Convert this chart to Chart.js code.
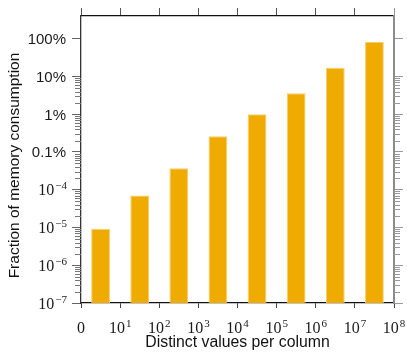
<!DOCTYPE html>
<html>
<head>
<meta charset="utf-8">
<script src="https://cdn.jsdelivr.net/npm/chart.js@4"></script>
<style>
  html, body { margin: 0; padding: 0; background: #fff; }
  #wrap { width: 407px; height: 352px; }
</style>
</head>
<body>
<div id="wrap"><canvas id="memChart" width="407" height="352"></canvas></div>
<script>
// bucket boundaries on the x axis: 0, 10^1 ... 10^8 distinct values
const xTickPos = [0, 1, 2, 3, 4, 5, 6, 7, 8];
const xTickLabels = ['0', '10^1', '10^2', '10^3', '10^4', '10^5', '10^6', '10^7', '10^8'];
// share of total memory per bucket (one bar between each pair of boundaries)
const memShare = [9.2e-6, 7.0e-5, 3.7e-4, 2.6e-3, 1.0e-2, 3.6e-2, 0.17, 0.82];

const yTickValues = [1e-7, 1e-6, 1e-5, 1e-4, 1e-3, 1e-2, 1e-1, 1];
const yTickLabels = ['10^-7', '10^-6', '10^-5', '10^-4', '0.1%', '1%', '10%', '100%'];
const yMin = 1e-7;
const yMax = 4;

const yTitle = 'Fraction of memory consumption';
const xTitle = 'Distinct values per column';

const SERIF = '"Liberation Serif", "DejaVu Serif", serif';
const SANS = '"Liberation Sans", Arial, sans-serif';
const BAR_COLOR = '#f0ab00';

// decade ticks plus 2..9 minors (the top decade has none)
function buildLogTicks(scale) {
  const ticks = [];
  for (let e = -7; e <= 0; e++) {
    for (let k = 1; k <= 9; k++) {
      if (k > 1 && e >= -1) continue;
      const v = k * Math.pow(10, e);
      if (v > yMax) continue;
      ticks.push({ value: v, major: k === 1 });
    }
  }
  scale.ticks = ticks;
}

function buildLinearTicks(scale) {
  scale.ticks = xTickPos.map((v) => ({ value: v }));
}

const majorOnly = (color) => (ctx) => (ctx.tick && ctx.tick.major ? color : 'rgba(0,0,0,0)');

// "10^-4" style labels: base in regular size, exponent raised and smaller
function drawPowerLabel(ctx, text, x, baseline, align) {
  const parts = text.split('^');
  const base = parts[0];
  const exp = parts.length > 1 ? parts[1].replace('-', '\u2212') : null;
  ctx.font = '16px ' + SERIF;
  const wBase = ctx.measureText(base).width;
  let wExp = 0;
  if (exp) {
    ctx.font = '11px ' + SERIF;
    wExp = ctx.measureText(exp).width + 1;
  }
  const total = wBase + wExp;
  const start = align === 'right' ? x - total : x - total / 2;
  ctx.textAlign = 'left';
  ctx.textBaseline = 'alphabetic';
  ctx.font = '16px ' + SERIF;
  ctx.fillText(base, start, baseline);
  if (exp) {
    ctx.font = '11px ' + SERIF;
    ctx.fillText(exp, start + wBase + 1, baseline - 6);
  }
}

const axisDecor = {
  id: 'axisDecor',
  afterDraw(chart) {
    const ctx = chart.ctx;
    const { x, y, y2 } = chart.scales;
    ctx.save();

    // minor ticks on the left and right log axes
    ctx.lineWidth = 1;
    y.ticks.forEach((t) => {
      if (t.major) return;
      const py = Math.round(y.getPixelForValue(t.value)) + 0.5;
      ctx.strokeStyle = '#777';
      ctx.beginPath();
      ctx.moveTo(y.right - 6, py);
      ctx.lineTo(y.right, py);
      ctx.stroke();
      ctx.strokeStyle = '#999';
      ctx.beginPath();
      ctx.moveTo(y2.left, py);
      ctx.lineTo(y2.left + 6, py);
      ctx.stroke();
    });

    ctx.fillStyle = '#1a1a1a';
    // y tick labels
    yTickValues.forEach((v, i) => {
      const py = y.getPixelForValue(v);
      const label = yTickLabels[i];
      if (label.indexOf('^') >= 0) {
        drawPowerLabel(ctx, label, 67, py + 5.5, 'right');
      } else {
        ctx.font = '15px ' + SANS;
        ctx.textAlign = 'right';
        ctx.textBaseline = 'alphabetic';
        ctx.fillText(label, 66, py + 5.4);
      }
    });

    // x tick labels
    xTickPos.forEach((v, i) => {
      const px = x.getPixelForValue(v);
      drawPowerLabel(ctx, xTickLabels[i], px, 333, 'center');
    });

    // y axis title, sits a bit below the axis middle
    ctx.fillStyle = '#111';
    ctx.font = '15.5px ' + SANS;
    ctx.textAlign = 'center';
    ctx.textBaseline = 'alphabetic';
    ctx.translate(18.5, (y.top + y.bottom) / 2 + 6);
    ctx.rotate(-Math.PI / 2);
    ctx.fillText(yTitle, 0, 0);
    ctx.restore();
  }
};

const ctx = document.getElementById('memChart').getContext('2d');
new Chart(ctx, {
  type: 'bar',
  data: {
    datasets: [{
      data: memShare.map((v, i) => ({ x: i + 0.5, y: v })),
      backgroundColor: BAR_COLOR,
      borderColor: '#f7cd6a',
      borderWidth: 1,
      categoryPercentage: 1,
      barPercentage: 0.48,
      xAxisID: 'x',
      yAxisID: 'y'
    }]
  },
  options: {
    responsive: false,
    animation: false,
    layout: { padding: 0 },
    plugins: { legend: { display: false }, tooltip: { enabled: false } },
    scales: {
      x: {
        type: 'linear',
        position: 'bottom',
        min: 0,
        max: 8,
        offset: false,
        afterBuildTicks: buildLinearTicks,
        afterFit: (s) => { s.height = 49; },
        ticks: { display: false },
        grid: { offset: false, drawOnChartArea: false, drawTicks: true, tickLength: 5, tickColor: '#444', tickWidth: 1 },
        border: { color: '#111', width: 1.3 },
        title: {
          display: true,
          text: xTitle,
          color: '#111',
          font: { family: SANS, size: 15.8, lineHeight: 1.2 },
          padding: { top: 0, bottom: 0 }
        }
      },
      x2: {
        type: 'linear',
        position: 'top',
        min: 0,
        max: 8,
        offset: false,
        afterBuildTicks: buildLinearTicks,
        afterFit: (s) => { s.height = 16; },
        ticks: { display: false },
        grid: {
          offset: false, drawOnChartArea: false, drawTicks: true, tickLength: 8, tickWidth: 1,
          tickColor: (c) => (c.index === 8 ? '#999' : '#555')
        },
        border: { color: '#111', width: 1.3 }
      },
      y: {
        type: 'logarithmic',
        position: 'left',
        min: yMin,
        max: yMax,
        afterBuildTicks: buildLogTicks,
        afterFit: (s) => { s.width = 81; },
        ticks: { display: false },
        grid: { drawOnChartArea: false, drawTicks: true, tickLength: 9, tickWidth: 1, tickColor: majorOnly('#666') },
        border: { color: '#333', width: 1.3 }
      },
      y2: {
        type: 'logarithmic',
        position: 'right',
        min: yMin,
        max: yMax,
        afterBuildTicks: buildLogTicks,
        afterFit: (s) => { s.width = 13; },
        ticks: { display: false },
        grid: { drawOnChartArea: false, drawTicks: true, tickLength: 9, tickWidth: 1, tickColor: majorOnly('#999') },
        border: { color: '#8c8c8c', width: 2 }
      }
    }
  },
  plugins: [axisDecor]
});
</script>
</body>
</html>
